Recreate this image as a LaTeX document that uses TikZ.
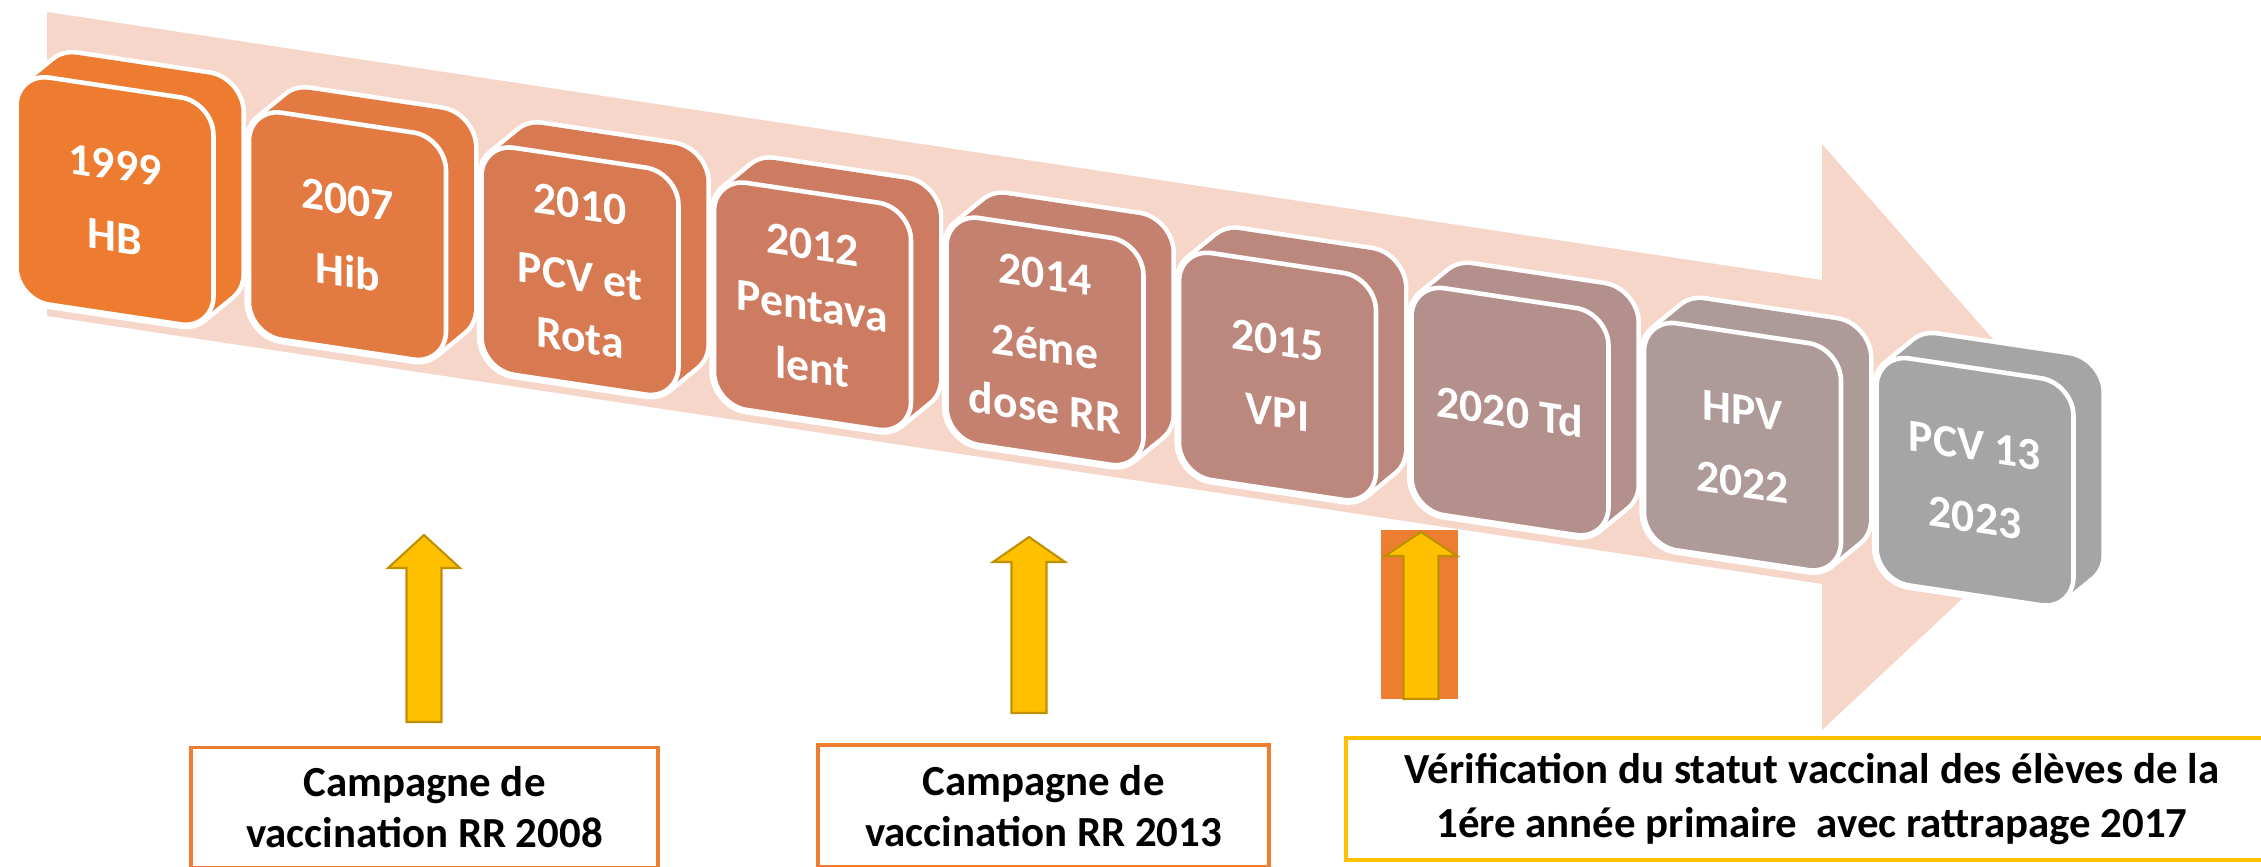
\documentclass[tikz,border=0pt]{standalone}
\usepackage{fontspec}
\setmainfont{Carlito}
\definecolor{yr0}{RGB}{237,124,49}
\definecolor{yr1}{RGB}{226,122,65}
\definecolor{yr2}{RGB}{216,122,81}
\definecolor{yr3}{RGB}{206,124,97}
\definecolor{yr4}{RGB}{197,129,112}
\definecolor{yr5}{RGB}{188,136,126}
\definecolor{yr6}{RGB}{180,144,140}
\definecolor{yr7}{RGB}{173,154,153}
\definecolor{yr8}{RGB}{165,165,165}
\definecolor{bandpink}{RGB}{247,214,202}
\definecolor{campyellow}{RGB}{255,192,0}
\definecolor{campedge}{RGB}{191,144,0}
\definecolor{camporange}{RGB}{237,125,49}

\begin{document}
\begin{tikzpicture}[
    vaxtile/.style={rectangle, rounded corners=0.33cm, minimum width=1.97cm, minimum height=2.27cm,
      inner sep=0pt, draw=white, line width=1.3pt, text=white, align=center,
      font=\bfseries\fontsize{13}{17.5}\selectfont, transform shape},
    campbox/.style={rectangle, minimum height=1.2cm, line width=0.9pt, align=center,
      font=\bfseries\fontsize{12.2}{14.5}\selectfont}
  ]
  \useasboundingbox (0,0) rectangle (22.61,-8.66);

  % Timeline
  \fill[bandpink] (0.47,-0.12) -- (18.22,-2.80) -- (18.22,-1.44) -- (21.04,-4.66)
    -- (18.22,-7.30) -- (18.22,-5.84) -- (0.47,-3.16) -- cycle;

  % Vaccine tiles
  \foreach \txt [count=\i from 0] in {{1999\\[3pt]HB}, {2007\\[3pt]Hib}, {2010\\[3pt]PCV et\\Rota},
      {2012\\Pentava\\lent}, {2014\\[3pt]2éme\\dose RR}, {2015\\[3pt]VPI}, {2020 Td},
      {HPV\\[3pt]2022}, {PCV 13\\[3pt]2023}} {
    \begin{scope}[shift={(1.15+2.325*\i,-2.01-0.351*\i)}, yslant=-0.15]
      \foreach \s in {0,0.1,...,1}
        \draw[white, line width=2.6pt, rounded corners=0.33cm] (-0.985+0.31*\s,-1.135+0.3*\s) rectangle ++(1.97,2.27);
      \foreach \s in {0,0.1,...,1}
        \fill[yr\i, rounded corners=0.33cm] (-0.985+0.31*\s,-1.135+0.3*\s) rectangle ++(1.97,2.27);
      \node (tile\i) [vaxtile, fill=yr\i] at (0,0) {\txt};
    \end{scope}
  }

  % Campaign arrows
  \fill[camporange] (13.81,-5.30) rectangle (14.58,-6.99);
  \foreach \x/\yt/\hh/\yb in {4.24/5.35/0.33/7.22, 10.29/5.37/0.25/7.13, 14.21/5.32/0.24/6.99}
    \draw[campedge, fill=campyellow, line width=0.6pt] (\x-0.175,-\yb) -- (\x-0.175,-\yt-\hh)
      -- (\x-0.36,-\yt-\hh) -- (\x,-\yt) -- (\x+0.36,-\yt-\hh) -- (\x+0.175,-\yt-\hh)
      -- (\x+0.175,-\yb) -- cycle;

  % Campaign boxes
  \node (campA) [campbox, draw=camporange, minimum width=4.67cm] at (4.245,-8.075) {Campagne de\\vaccination RR 2008};
  \node (campB) [campbox, draw=camporange, minimum width=4.51cm, minimum height=1.22cm] at (10.435,-8.06) {Campagne de\\vaccination RR 2013};
  \node (campC) [campbox, draw=campyellow, minimum width=9.32cm, minimum height=1.22cm,
    font=\bfseries\fontsize{12.2}{15.4}\selectfont] at (18.12,-7.99)
    {Vérification du statut vaccinal des élèves de la\\1ére année primaire~ avec rattrapage 2017};
\end{tikzpicture}
\end{document}
